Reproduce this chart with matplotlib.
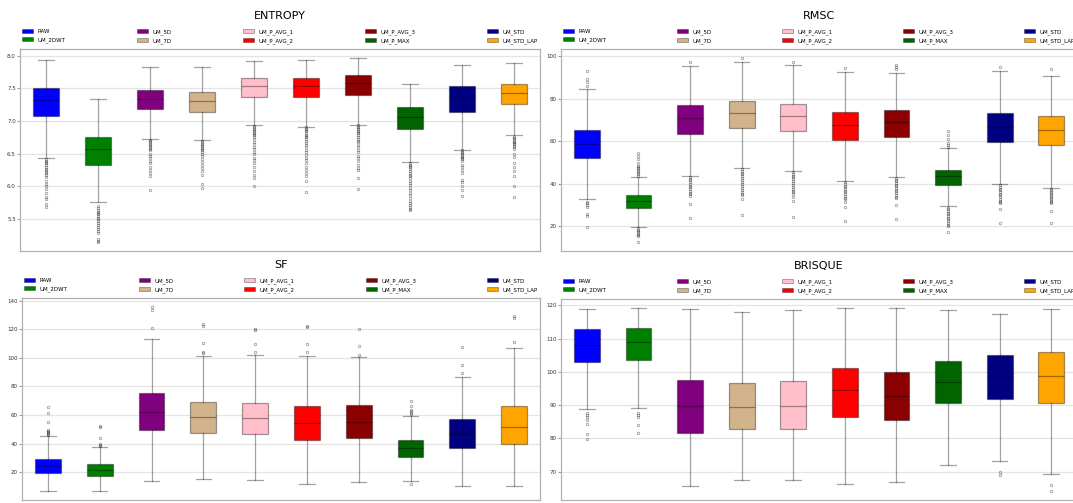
import matplotlib
matplotlib.use("Agg")
import matplotlib.pyplot as plt
import matplotlib.patches as mpatches

methods = ["RAW", "UM_2DWT", "UM_5D", "UM_7D", "UM_P_AVG_1", "UM_P_AVG_2",
           "UM_P_AVG_3", "UM_P_MAX", "UM_STD", "UM_STD_LAP"]
colors = ["blue", "green", "purple", "tan", "pink", "red",
          "darkred", "darkgreen", "navy", "orange"]

# ENTROPY summary stats per method
entropy_lo = [6.44, 5.76, 6.72, 6.71, 6.93, 6.91, 6.94, 6.37, 6.56, 6.79]
entropy_q1 = [7.08, 6.33, 7.18, 7.13, 7.36, 7.36, 7.39, 6.87, 7.14, 7.26]
entropy_med = [7.32, 6.57, 7.33, 7.30, 7.54, 7.54, 7.58, 7.06, 7.36, 7.43]
entropy_q3 = [7.51, 6.75, 7.48, 7.44, 7.66, 7.66, 7.70, 7.21, 7.53, 7.57]
entropy_hi = [7.93, 7.34, 7.82, 7.82, 7.92, 7.93, 7.96, 7.56, 7.85, 7.89]
entropy_fliers = [
    [6.41, 6.39, 6.37, 6.35, 6.33, 6.30, 6.27, 6.25, 6.22, 6.20, 6.17, 6.14, 6.08, 6.03, 6.00, 5.96, 5.90, 5.84, 5.80, 5.73, 5.68],
    [5.70, 5.67, 5.64, 5.61, 5.59, 5.57, 5.55, 5.52, 5.50, 5.47, 5.44, 5.41, 5.38, 5.35, 5.31, 5.29, 5.19, 5.17, 5.15],
    [6.71, 6.69, 6.67, 6.65, 6.63, 6.61, 6.59, 6.57, 6.55, 6.50, 6.47, 6.43, 6.39, 6.35, 6.30, 6.25, 6.20, 6.16, 5.95],
    [6.69, 6.67, 6.65, 6.63, 6.61, 6.59, 6.57, 6.55, 6.53, 6.50, 6.46, 6.42, 6.37, 6.33, 6.28, 6.24, 6.17, 6.04, 5.98],
    [6.92, 6.90, 6.88, 6.86, 6.84, 6.82, 6.80, 6.78, 6.75, 6.72, 6.68, 6.64, 6.60, 6.57, 6.53, 6.49, 6.44, 6.40, 6.35, 6.30, 6.24, 6.18, 6.13, 6.00],
    [6.90, 6.88, 6.86, 6.84, 6.81, 6.79, 6.77, 6.75, 6.72, 6.69, 6.66, 6.63, 6.60, 6.56, 6.52, 6.48, 6.44, 6.40, 6.36, 6.30, 6.25, 6.20, 6.16, 6.08, 5.91],
    [6.93, 6.91, 6.89, 6.87, 6.85, 6.83, 6.81, 6.78, 6.76, 6.73, 6.70, 6.67, 6.63, 6.60, 6.56, 6.52, 6.47, 6.43, 6.38, 6.33, 6.28, 6.25, 6.12, 5.96],
    [6.35, 6.33, 6.31, 6.29, 6.27, 6.24, 6.21, 6.18, 6.15, 6.12, 6.08, 6.05, 6.02, 5.98, 5.94, 5.90, 5.86, 5.82, 5.78, 5.75, 5.72, 5.69, 5.66, 5.64],
    [6.55, 6.53, 6.51, 6.49, 6.47, 6.45, 6.43, 6.41, 6.38, 6.33, 6.30, 6.25, 6.20, 6.10, 6.07, 6.00, 5.95, 5.85],
    [6.76, 6.74, 6.72, 6.70, 6.68, 6.66, 6.64, 6.62, 6.60, 6.57, 6.50, 6.45, 6.35, 6.30, 6.24, 6.15, 6.01, 5.83],
]

# RMSC
rmsc_lo = [32.6, 19.7, 43.6, 47.2, 45.8, 41.1, 43.1, 29.4, 39.8, 38.0]
rmsc_q1 = [52.3, 28.3, 63.6, 66.0, 64.7, 60.8, 61.9, 39.4, 59.8, 58.3]
rmsc_med = [58.6, 31.7, 70.9, 73.2, 71.7, 67.6, 69.1, 43.6, 66.9, 65.4]
rmsc_q3 = [65.4, 34.5, 77.0, 78.9, 77.5, 73.7, 74.6, 46.5, 73.1, 71.8]
rmsc_hi = [84.6, 43.3, 95.4, 97.2, 95.9, 92.6, 92.1, 57.0, 92.9, 90.9]
rmsc_fliers = [
    [92.9, 89.4, 87.9, 86.1, 31.5, 30.7, 29.9, 29.1, 25.7, 24.9, 19.4],
    [54.3, 52.8, 51.5, 49.6, 48.4, 47.8, 47.2, 46.5, 45.8, 45.1, 44.4, 43.8, 18.9, 18.2, 17.6, 17.0, 16.4, 15.8, 15.2, 12.3],
    [97.3, 43.2, 42.4, 41.5, 40.6, 39.8, 39.0, 38.2, 37.3, 36.5, 35.7, 34.9, 34.0, 30.2, 23.6],
    [99.1, 46.8, 46.0, 45.2, 44.3, 43.4, 42.5, 41.6, 40.7, 39.8, 38.9, 38.0, 37.1, 36.2, 35.3, 34.6, 32.6, 25.2],
    [97.5, 45.4, 44.6, 43.8, 43.0, 42.1, 41.2, 40.3, 39.4, 38.5, 37.6, 36.7, 35.8, 34.9, 33.9, 31.7, 24.4],
    [94.6, 40.6, 39.8, 39.0, 38.2, 37.4, 36.6, 35.8, 35.0, 34.2, 33.4, 32.6, 31.5, 28.8, 22.5],
    [95.9, 95.0, 94.0, 42.7, 41.9, 41.1, 40.3, 39.5, 38.7, 37.9, 37.1, 36.3, 35.5, 34.7, 33.9, 33.1, 29.9, 23.1],
    [65.0, 63.0, 61.1, 59.0, 58.2, 57.5, 28.7, 27.9, 27.1, 26.3, 25.5, 24.7, 23.9, 23.1, 22.3, 21.5, 20.7, 19.9, 17.3],
    [94.8, 39.2, 38.4, 37.6, 36.8, 36.0, 35.2, 34.4, 33.6, 32.8, 32.0, 31.2, 30.7, 28.0, 21.4],
    [94.0, 37.5, 36.8, 36.1, 35.4, 34.7, 34.0, 33.3, 32.6, 31.9, 31.2, 30.7, 27.2, 21.6],
]

# SF
sf_lo = [6.7, 6.7, 13.7, 15.6, 14.6, 12.1, 13.0, 13.7, 10.2, 10.2]
sf_q1 = [19.3, 17.7, 49.4, 47.8, 46.8, 42.4, 43.8, 30.7, 36.8, 39.6]
sf_med = [24.4, 21.4, 62.0, 58.5, 58.0, 54.3, 55.0, 37.0, 46.8, 51.7]
sf_q3 = [29.6, 25.6, 75.1, 69.0, 68.8, 66.7, 66.9, 42.4, 57.1, 66.5]
sf_hi = [45.2, 37.5, 113.1, 101.0, 101.9, 101.2, 100.5, 59.4, 86.5, 107.1]
sf_fliers = [
    [65.5, 61.6, 55.0, 49.6, 48.8, 48.0, 47.3, 46.6, 46.1],
    [52.4, 51.5, 44.3, 39.6, 39.0, 38.4],
    [135.6, 133.7, 120.9],
    [123.7, 122.5, 110.3, 104.3, 103.3],
    [120.2, 119.7, 109.9, 103.8],
    [122.3, 121.6, 109.6, 103.8],
    [120.2, 108.5, 102.2],
    [70.0, 66.5, 63.7, 62.6, 61.6, 60.9, 11.8],
    [107.8, 94.7, 89.6],
    [129.5, 127.9, 111.3],
]

# BRISQUE
brisque_lo = [88.7, 89.0, 65.7, 67.5, 67.5, 66.2, 67.0, 71.9, 73.1, 69.4]
brisque_q1 = [103.0, 103.5, 81.5, 82.7, 82.8, 86.4, 85.5, 90.5, 92.0, 90.7]
brisque_med = [108.1, 108.9, 89.6, 89.3, 89.7, 94.5, 92.7, 97.1, 98.5, 98.8]
brisque_q3 = [112.9, 113.3, 97.6, 96.7, 97.3, 101.3, 100.1, 103.3, 105.2, 106.0]
brisque_hi = [118.8, 119.1, 118.8, 118.0, 118.6, 119.2, 119.2, 118.6, 117.5, 119.0]
brisque_fliers = [
    [87.7, 87.0, 86.3, 85.5, 84.3, 81.3, 79.8],
    [87.7, 87.0, 86.3, 84.0, 81.7],
    [], [], [], [], [], [],
    [70.0, 68.9],
    [66.0, 64.1],
]

line_c = (0, 0, 0, 0.36)


def box_panel(ax, title, lo, q1, med, q3, hi, fliers, ylim, yticks):
    stats = []
    for i in range(len(methods)):
        stats.append(dict(med=med[i], q1=q1[i], q3=q3[i], whislo=lo[i],
                          whishi=hi[i], fliers=fliers[i], label=methods[i]))
    bp = ax.bxp(stats, positions=range(len(methods)), widths=0.5, capwidths=0.3,
                patch_artist=True, manage_ticks=False,
                boxprops=dict(edgecolor=line_c, linewidth=0.9),
                whiskerprops=dict(color=line_c, linewidth=0.9),
                capprops=dict(color=line_c, linewidth=0.9),
                medianprops=dict(color=line_c, linewidth=0.9),
                flierprops=dict(marker="o", markersize=1.8, markerfacecolor="none",
                                markeredgecolor=(0, 0, 0, 0.4), markeredgewidth=0.55))
    for patch, c in zip(bp["boxes"], colors):
        patch.set_facecolor(c)
    ax.set_xlim(-0.5, len(methods) - 0.5)
    ax.set_ylim(*ylim)
    ax.set_yticks(yticks)
    ax.set_xticks([])
    ax.grid(axis="y", color="#e4e4e4", linewidth=0.9)
    ax.set_axisbelow(True)
    for s in ax.spines.values():
        s.set_color("#b0b0b0")
        s.set_linewidth(0.9)
    ax.tick_params(axis="y", labelsize=4, length=2, width=0.6, pad=1,
                   color="#888888", labelcolor="#333333")
    ax.set_title(title, fontsize=8, y=1.15, pad=0)
    handles = [mpatches.Patch(facecolor=c, edgecolor=line_c, linewidth=0.6, label=m)
               for m, c in zip(methods, colors)]
    ax.legend(handles=handles, loc="lower left", bbox_to_anchor=(0, 1.015, 1.0, 0.05),
              mode="expand", ncol=5, frameon=False, fontsize=4, borderaxespad=0,
              labelspacing=0.6, handletextpad=0.8)


W, H = 1073, 503
fig = plt.figure(figsize=(W / 100, H / 100), dpi=100)
ax1 = fig.add_axes([20 / W, 1 - 251 / H, 520 / W, 202 / H])
ax2 = fig.add_axes([561 / W, 1 - 251 / H, 516 / W, 202 / H])
ax3 = fig.add_axes([22 / W, 1 - 500 / H, 518 / W, 202 / H])
ax4 = fig.add_axes([561 / W, 1 - 500 / H, 516 / W, 201 / H])

box_panel(ax1, "ENTROPY", entropy_lo, entropy_q1, entropy_med, entropy_q3, entropy_hi,
          entropy_fliers, (5.01, 8.10), [5.5, 6.0, 6.5, 7.0, 7.5, 8.0])
box_panel(ax2, "RMSC", rmsc_lo, rmsc_q1, rmsc_med, rmsc_q3, rmsc_hi,
          rmsc_fliers, (8.2, 103.5), [20, 40, 60, 80, 100])
box_panel(ax3, "SF", sf_lo, sf_q1, sf_med, sf_q3, sf_hi,
          sf_fliers, (0.6, 141.9), [20, 40, 60, 80, 100, 120, 140])
box_panel(ax4, "BRISQUE", brisque_lo, brisque_q1, brisque_med, brisque_q3, brisque_hi,
          brisque_fliers, (61.5, 121.9), [70, 80, 90, 100, 110, 120])

fig.savefig("out.png", dpi=100)
